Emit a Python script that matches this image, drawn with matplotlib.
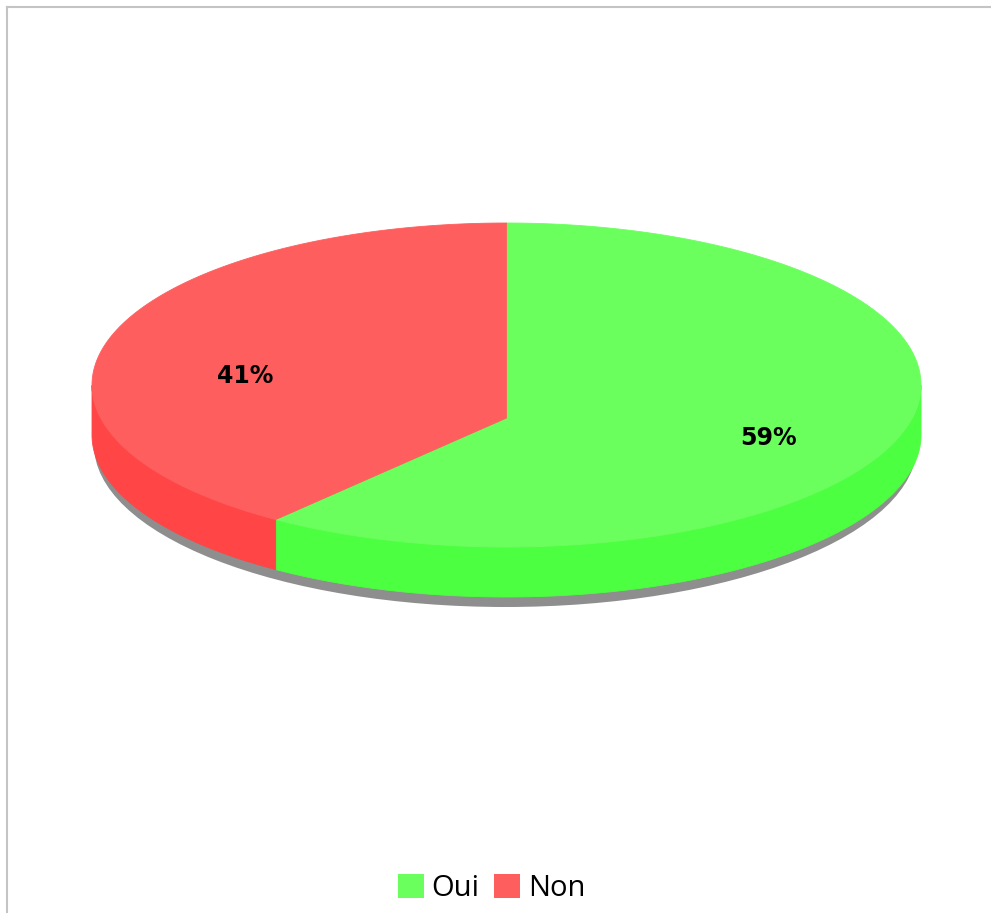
import matplotlib
matplotlib.use('Agg')
import numpy as np
import matplotlib.pyplot as plt
from matplotlib.lines import Line2D
from matplotlib.patches import Patch, Ellipse

# data (shares, labels round to 59% / 41%)
labels = ['Oui', 'Non']
values = [59.4, 40.6]
top_colors = ['#6bff5e', '#ff5e5e']
side_colors = ['#4cff40', '#ff4545']
shadow_color = '#8e8e8e'

W, H = 991, 913
fig = plt.figure(figsize=(W / 100, H / 100), dpi=100)
ax = fig.add_axes([0, 0, 1, 1])
ax.set_xlim(0, W)
ax.set_ylim(H, 0)
ax.axis('off')

# ellipse geometry (pixels)
cx, cy = 506.5, 385.0
rx, ry = 414.5, 162.0
apex_dy = 33      # apex of the slices sits below the ellipse centre
depth = 50
shadow_off = 10


def rim(theta, dy=0.0):
    t = np.radians(theta)
    return cx + rx * np.cos(t), cy - ry * np.sin(t) + dy


# shadow
ax.add_patch(Ellipse((cx - 1, cy + depth + shadow_off), 2 * rx - 6, 2 * ry,
                     facecolor=shadow_color, edgecolor='none', zorder=1))

fracs = np.array(values) / sum(values)
starts = np.concatenate([[0], np.cumsum(fracs)[:-1]])

# sides (front half only)
for f, s, col in zip(fracs, starts, side_colors):
    th = np.linspace(90 - 360 * s, 90 - 360 * (s + f), 400)
    vis = np.sin(np.radians(th)) <= 1e-9
    if vis.sum() < 2:
        continue
    tv = th[vis]
    xt, yt = rim(tv)
    xb, yb = rim(tv[::-1], depth)
    ax.fill(np.concatenate([xt, xb]), np.concatenate([yt, yb]),
            facecolor=col, edgecolor=col, lw=0.6, zorder=2)

# top face
for f, s, col in zip(fracs, starts, top_colors):
    th = np.linspace(90 - 360 * s, 90 - 360 * (s + f), 400)
    xr, yr = rim(th)
    ax.fill(np.concatenate([[cx], xr]), np.concatenate([[cy + apex_dy], yr]),
            facecolor=col, edgecolor=col, lw=0.6, zorder=3)

# percentage labels
for f, s in zip(fracs, starts):
    mid = 90 - 360 * (s + f / 2)
    t = np.radians(mid)
    lx = cx + 0.66 * rx * np.cos(t)
    ly = cy - 0.66 * ry * np.sin(t) + 22
    ax.text(lx, ly, f'{f * 100:.0f}%', ha='center', va='center',
            fontsize=17, fontweight='bold', family='DejaVu Sans',
            color='black', zorder=5)

# border
fig.add_artist(Line2D([7 / W, 7 / W], [0, 1 - 7 / H], color='#c4c4c4', lw=1.5,
                      transform=fig.transFigure))
fig.add_artist(Line2D([7 / W, 1], [1 - 7 / H, 1 - 7 / H], color='#c4c4c4', lw=1.5,
                      transform=fig.transFigure))

handles = [Patch(facecolor=c, edgecolor='none') for c in top_colors]
fig.legend(handles, labels, loc='center', bbox_to_anchor=(491.7 / W, 24.5 / H),
           ncol=2, frameon=False, prop=dict(family='Open Sans', size=21),
           handlelength=0.89, handleheight=0.89, handletextpad=0.28,
           columnspacing=0.5, borderpad=0)

fig.savefig('out.png', dpi=100, facecolor='white')
